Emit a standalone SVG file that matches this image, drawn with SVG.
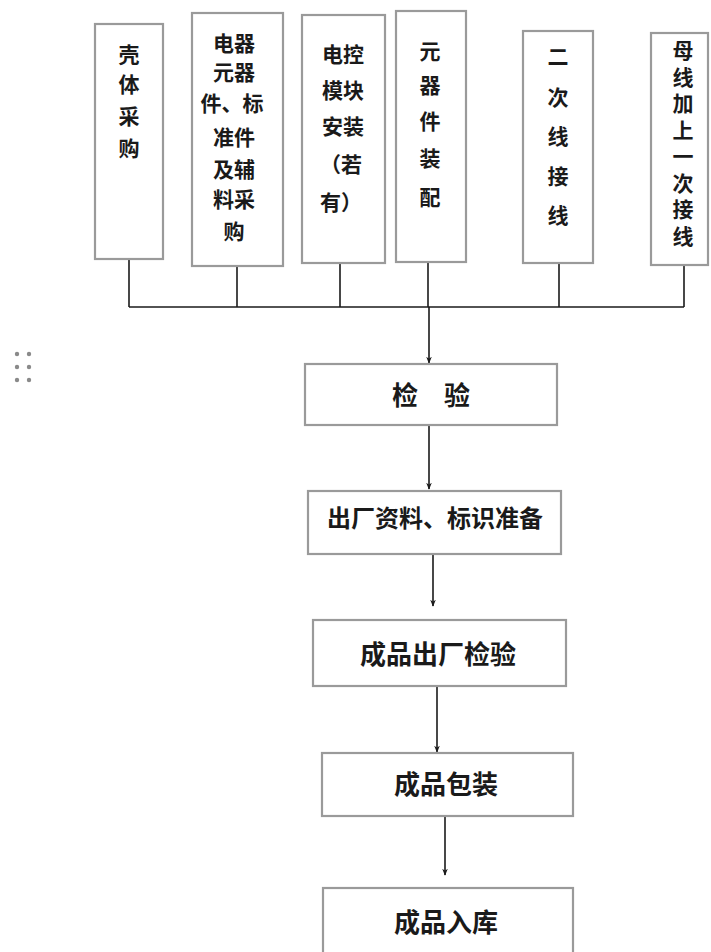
<svg xmlns="http://www.w3.org/2000/svg" width="711" height="952" viewBox="0 0 711 952">
<style>
.box{fill:#ffffff;stroke:#9a9a9a;stroke-width:2.2}
.t{font-family:"Noto Sans CJK SC","Noto Sans CJK TC",sans-serif;font-weight:bold;fill:#1a1a1a;text-anchor:middle;dominant-baseline:central}
.v{font-family:"Noto Sans CJK SC","Noto Sans CJK TC",sans-serif;font-weight:bold;fill:#1a1a1a;writing-mode:vertical-rl;text-anchor:start}
.s22{font-size:21px}
.s25{font-size:24px}
.s27{font-size:26px}
.ln{stroke:#1a1a1a;stroke-width:1.6;fill:none}
.dot{fill:#8a8a8a}
</style>
<defs>
<marker id="ah" viewBox="0 0 10 10" refX="9" refY="5" markerWidth="7" markerHeight="7" orient="auto" markerUnits="userSpaceOnUse">
<path d="M0,1 L10,5 L0,9 L3,5 z" fill="#1a1a1a"/>
</marker>
</defs>
<rect width="711" height="952" fill="#ffffff"/>
<g id="dots">
<circle class="dot" cx="17" cy="354" r="2.2"/><circle class="dot" cx="29" cy="354" r="2.2"/>
<circle class="dot" cx="17" cy="367" r="2.2"/><circle class="dot" cx="29" cy="367" r="2.2"/>
<circle class="dot" cx="17" cy="380" r="2.2"/><circle class="dot" cx="29" cy="380" r="2.2"/>
</g>
<g id="connectors">
<line class="ln" x1="129" y1="259" x2="129" y2="307"/>
<line class="ln" x1="237" y1="266" x2="237" y2="307"/>
<line class="ln" x1="340" y1="263" x2="340" y2="307"/>
<line class="ln" x1="428" y1="262" x2="428" y2="307"/>
<line class="ln" x1="559" y1="263" x2="559" y2="307"/>
<line class="ln" x1="684" y1="265" x2="684" y2="307"/>
<line class="ln" x1="129" y1="307" x2="684" y2="307"/>
<line class="ln" x1="429" y1="307" x2="429" y2="363" marker-end="url(#ah)"/>
<line class="ln" x1="429" y1="425" x2="429" y2="489" marker-end="url(#ah)"/>
<line class="ln" x1="433" y1="554" x2="433" y2="606" marker-end="url(#ah)"/>
<line class="ln" x1="437" y1="686" x2="437" y2="752" marker-end="url(#ah)"/>
<line class="ln" x1="445" y1="816" x2="445" y2="875" marker-end="url(#ah)"/>
</g>
<g id="n1">
<rect class="box" x="95" y="24" width="68" height="235"/>
<text class="t s22" x="129" y="53"><tspan x="129" y="53">壳</tspan><tspan x="129" y="83">体</tspan><tspan x="129" y="115">采</tspan><tspan x="129" y="147">购</tspan></text>
</g>
<g id="n2">
<rect class="box" x="192" y="13" width="91" height="253"/>
<text class="t s22" x="235" y="42"><tspan x="234" y="42">电器</tspan><tspan x="234" y="71">元器</tspan><tspan x="232" y="102">件、标</tspan><tspan x="234" y="136">准件</tspan><tspan x="234" y="168">及辅</tspan><tspan x="234" y="198">料采</tspan><tspan x="234" y="230">购</tspan></text>
</g>
<g id="n3">
<rect class="box" x="302" y="15" width="83" height="248"/>
<text class="t s22" x="343" y="53"><tspan x="343" y="53">电控</tspan><tspan x="343" y="89">模块</tspan><tspan x="343" y="125">安装</tspan><tspan x="341" y="163">（若</tspan><tspan x="341" y="201">有）</tspan></text>
</g>
<g id="n4">
<rect class="box" x="396" y="11" width="70" height="251"/>
<text class="t s22" x="430" y="50"><tspan x="430" y="50">元</tspan><tspan x="430" y="84">器</tspan><tspan x="430" y="120">件</tspan><tspan x="430" y="157">装</tspan><tspan x="430" y="196">配</tspan></text>
</g>
<g id="n5">
<rect class="box" x="523" y="31" width="70" height="232"/>
<text class="t s22" x="558" y="55"><tspan x="558" y="55">二</tspan><tspan x="558" y="96">次</tspan><tspan x="558" y="135">线</tspan><tspan x="558" y="175">接</tspan><tspan x="558" y="214">线</tspan></text>
</g>
<g id="n6">
<rect class="box" x="651" y="33" width="57" height="232"/>
<text class="v s22" x="683" y="40" letter-spacing="5.5">母线加上一次接线</text>
</g>
<g id="n7">
<rect class="box" x="305" y="364" width="252" height="61"/>
<text class="t s27" x="431" y="393">检　验</text>
</g>
<g id="n8">
<rect class="box" x="308" y="491" width="253" height="63"/>
<text class="t s25" x="435" y="516">出厂资料、标识准备</text>
</g>
<g id="n9">
<rect class="box" x="313" y="620" width="253" height="66"/>
<text class="t s27" x="438" y="652">成品出厂检验</text>
</g>
<g id="n10">
<rect class="box" x="322" y="753" width="251" height="63"/>
<text class="t s27" x="446" y="782">成品包装</text>
</g>
<g id="n11">
<rect class="box" x="323" y="888" width="250" height="70"/>
<text class="t s27" x="446" y="920">成品入库</text>
</g>
</svg>
